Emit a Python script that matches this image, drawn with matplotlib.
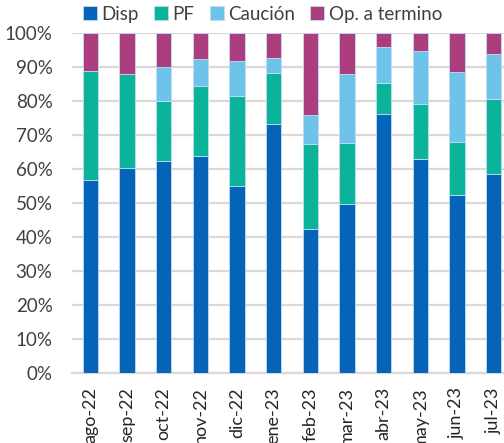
import matplotlib
matplotlib.use("Agg")
import matplotlib.pyplot as plt
import numpy as np

categories = ["ago-22", "sep-22", "oct-22", "nov-22", "dic-22", "ene-23",
              "feb-23", "mar-23", "abr-23", "may-23", "jun-23", "jul-23"]
disp = [57.0, 60.5, 62.4, 64.0, 55.2, 73.4, 42.5, 49.9, 76.4, 63.1, 52.5, 58.5]
pf = [31.9, 27.6, 17.6, 20.6, 26.4, 14.9, 25.0, 17.7, 8.9, 16.2, 15.5, 22.1]
caucion = [0.0, 0.0, 10.1, 7.8, 10.3, 4.4, 8.5, 20.4, 10.6, 15.6, 20.6, 13.2]
op_termino = [11.1, 11.9, 9.9, 7.6, 8.1, 7.3, 24.0, 12.0, 4.1, 5.1, 11.4, 6.2]
series_names = ["Disp", "PF", "Caución", "Op. a termino"]
colors = ["#0563B8", "#0BB39A", "#6EC3EA", "#AC3E80"]

plt.rcParams['font.family'] = ['Lato', 'DejaVu Sans']

fig = plt.figure(figsize=(5.04, 4.43), dpi=100)
ax = fig.add_axes([72/504, 1 - 373.3/443, 440/504, 340/443])

x = np.arange(len(categories))
bottom = np.zeros(len(categories))
handles = []
for name, vals, c in zip(series_names, [disp, pf, caucion, op_termino], colors):
    vals = np.array(vals)
    b = ax.bar(x, vals, bottom=bottom, width=0.42, color=c, label=name,
               edgecolor="#BFDDF0", linewidth=0.6, zorder=3)
    bottom += vals
    handles.append(b)

ax.set_xlim(-0.5, len(categories) - 0.5)
ax.set_ylim(0, 100)
ax.set_yticks(np.arange(0, 101, 10))
ax.set_yticklabels([f"{v}%" for v in range(0, 101, 10)], fontsize=13.5, color="#404040")
ax.set_xticks(x)
ax.set_xticklabels(categories, rotation=90, fontsize=13, color="#262626")
ax.tick_params(axis="y", length=0, pad=14)
ax.tick_params(axis="x", length=0, pad=10)
ax.grid(axis="y", color="#D9D9D9", linewidth=1.6, zorder=0)
for s in ["top", "right", "left"]:
    ax.spines[s].set_visible(False)
ax.spines["bottom"].set_color("#D9D9D9")
ax.spines["bottom"].set_linewidth(1.6)

fig.legend(handles=handles, labels=series_names, loc="upper center",
           bbox_to_anchor=(0.521, 1.025), ncol=4, frameon=False, fontsize=13.5,
           handlelength=0.75, handleheight=0.75, handletextpad=0.25,
           columnspacing=0.8, labelcolor="#404040")

fig.savefig("out.png", dpi=100)
